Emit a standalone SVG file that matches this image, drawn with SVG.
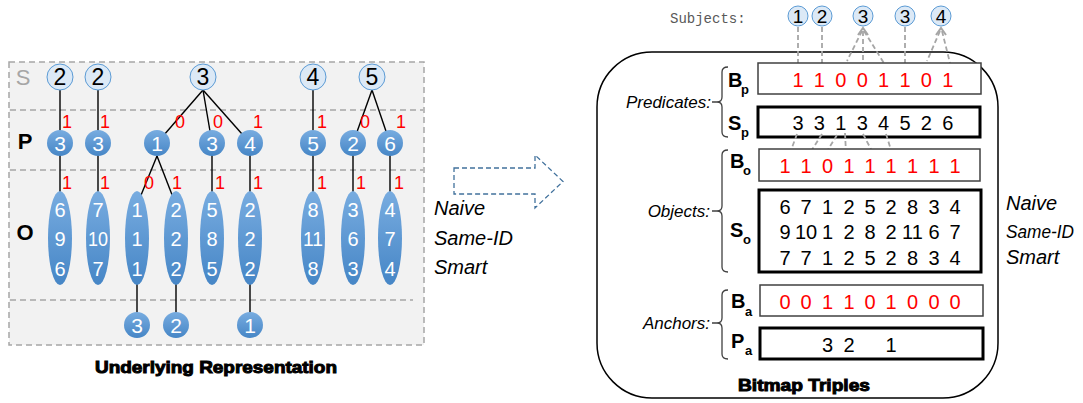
<svg xmlns="http://www.w3.org/2000/svg" width="1083" height="403" viewBox="0 0 1083 403">
<defs>
<linearGradient id="blu" x1="0" y1="0" x2="0" y2="1">
<stop offset="0" stop-color="#78ace0"/>
<stop offset="1" stop-color="#4686c6"/>
</linearGradient>
<style>
.sans{font-family:"Liberation Sans",Arial,sans-serif}
.snode circle{fill:#dce9f6;stroke:#5b9bd5;stroke-width:1}
.snode text{font-family:"Liberation Sans",Arial,sans-serif;font-size:23px;fill:#000;text-anchor:middle}
.bnode circle,.bnode ellipse{fill:url(#blu)}
.bnode text{font-family:"Liberation Sans",Arial,sans-serif;font-size:21px;fill:#fff;text-anchor:middle}
.bnode .o{font-size:20px}
.red{font-family:"Liberation Sans",Arial,sans-serif;font-size:18px;fill:#ff0000;text-anchor:middle}
.edge{stroke:#000;stroke-width:1.4;fill:none}
.dash{stroke:#a6a6a6;stroke-width:1.5;stroke-dasharray:6 4;fill:none}
.gdash{stroke:#a6a6a6;stroke-width:1.8;stroke-dasharray:5 3;fill:none}
.ital{font-family:"Liberation Sans",Arial,sans-serif;font-style:italic;fill:#000}
.thin{fill:#fff;stroke:#404040;stroke-width:1.5}
.thick{fill:#fff;stroke:#000;stroke-width:3}
.rbits{font-family:"Liberation Sans",Arial,sans-serif;font-size:20px;fill:#ff0000;text-anchor:middle}
.kbits{font-family:"Liberation Sans",Arial,sans-serif;font-size:20px;fill:#000;text-anchor:middle}
.lab{font-family:"Liberation Sans",Arial,sans-serif;font-weight:bold;font-size:20px;fill:#000}
.sub{font-family:"Liberation Sans",Arial,sans-serif;font-weight:bold;font-size:13px;fill:#000}
.brace{stroke:#404040;stroke-width:1.3;fill:none}
.title{font-family:"Liberation Sans",Arial,sans-serif;font-weight:bold;font-size:17px;fill:#000;stroke:#000;stroke-width:1;text-anchor:middle}
.subj circle{fill:#dce9f6;stroke:#5b9bd5;stroke-width:1}
.subj text{font-family:"Liberation Sans",Arial,sans-serif;font-size:19px;fill:#000;text-anchor:middle}
</style>
</defs>

<!-- Left panel background -->
<g id="left-panel">
<rect x="9" y="62" width="415" height="283" fill="#f2f2f2" stroke="#a6a6a6" stroke-width="1.5" stroke-dasharray="6 4"/>
<line class="dash" x1="10" y1="110" x2="423" y2="110"/>
<line class="dash" x1="10" y1="170" x2="423" y2="170"/>
<line class="dash" x1="10" y1="300" x2="413" y2="300"/>
<text x="23" y="85" class="sans" font-size="22" fill="#a6a6a6" text-anchor="middle">S</text>
<text x="25" y="149" class="sans" font-size="22" font-weight="bold" fill="#000" text-anchor="middle">P</text>
<text x="25" y="240" class="sans" font-size="22" font-weight="bold" fill="#000" text-anchor="middle">O</text>
</g>

<!-- Connectors -->
<g id="connectors">
<line class="edge" x1="60" y1="90" x2="60" y2="143"/>
<line class="edge" x1="98" y1="90" x2="98" y2="143"/>
<line class="edge" x1="203" y1="90" x2="157" y2="143"/>
<line class="edge" x1="203" y1="90" x2="212" y2="143"/>
<line class="edge" x1="203" y1="90" x2="250" y2="143"/>
<line class="edge" x1="313" y1="90" x2="313" y2="143"/>
<line class="edge" x1="372" y1="90" x2="353" y2="143"/>
<line class="edge" x1="372" y1="90" x2="390" y2="143"/>
<line class="edge" x1="60" y1="150" x2="60" y2="210"/>
<line class="edge" x1="98" y1="150" x2="98" y2="210"/>
<line class="edge" x1="157" y1="156" x2="137" y2="205"/>
<line class="edge" x1="157" y1="156" x2="176" y2="205"/>
<line class="edge" x1="212" y1="150" x2="212" y2="210"/>
<line class="edge" x1="250" y1="150" x2="250" y2="210"/>
<line class="edge" x1="313" y1="150" x2="313" y2="210"/>
<line class="edge" x1="353" y1="150" x2="353" y2="210"/>
<line class="edge" x1="390" y1="150" x2="390" y2="210"/>
<line class="edge" x1="137" y1="270" x2="137" y2="320"/>
<line class="edge" x1="176" y1="270" x2="176" y2="320"/>
<line class="edge" x1="250" y1="270" x2="250" y2="320"/>
<text class="red" x="67" y="128">1</text>
<text class="red" x="105" y="128">1</text>
<text class="red" x="180" y="128">0</text>
<text class="red" x="218" y="128">0</text>
<text class="red" x="258" y="128">1</text>
<text class="red" x="322" y="128">1</text>
<text class="red" x="365" y="128">0</text>
<text class="red" x="401" y="128">1</text>
<text class="red" x="67" y="189">1</text>
<text class="red" x="105" y="189">1</text>
<text class="red" x="149" y="189">0</text>
<text class="red" x="177" y="189">1</text>
<text class="red" x="220" y="189">1</text>
<text class="red" x="258" y="189">1</text>
<text class="red" x="322" y="189">1</text>
<text class="red" x="361" y="189">1</text>
<text class="red" x="399" y="189">1</text>
</g>

<!-- Subject nodes -->
<g id="s-2a" class="snode"><circle cx="60" cy="77" r="13"/><text x="60" y="85">2</text></g>
<g id="s-2b" class="snode"><circle cx="98" cy="77" r="13"/><text x="98" y="85">2</text></g>
<g id="s-3" class="snode"><circle cx="203" cy="77" r="13"/><text x="203" y="85">3</text></g>
<g id="s-4" class="snode"><circle cx="313" cy="77" r="13"/><text x="313" y="85">4</text></g>
<g id="s-5" class="snode"><circle cx="372" cy="77" r="13"/><text x="372" y="85">5</text></g>

<!-- Predicate nodes -->
<g id="p-3a" class="bnode"><circle cx="60" cy="143" r="13"/><text x="60" y="151">3</text></g>
<g id="p-3b" class="bnode"><circle cx="98" cy="143" r="13"/><text x="98" y="151">3</text></g>
<g id="p-1" class="bnode"><circle cx="157" cy="143" r="13"/><text x="157" y="151">1</text></g>
<g id="p-3c" class="bnode"><circle cx="212" cy="143" r="13"/><text x="212" y="151">3</text></g>
<g id="p-4" class="bnode"><circle cx="250" cy="143" r="13"/><text x="250" y="151">4</text></g>
<g id="p-5" class="bnode"><circle cx="313" cy="143" r="13"/><text x="313" y="151">5</text></g>
<g id="p-2" class="bnode"><circle cx="353" cy="143" r="13"/><text x="353" y="151">2</text></g>
<g id="p-6" class="bnode"><circle cx="390" cy="143" r="13"/><text x="390" y="151">6</text></g>

<!-- Object nodes -->
<g id="o-1" class="bnode"><ellipse cx="60" cy="238" rx="12" ry="47"/><text class="o" x="60" y="217">6</text><text class="o" x="60" y="246">9</text><text class="o" x="60" y="276">6</text></g>
<g id="o-2" class="bnode"><ellipse cx="98" cy="238" rx="12" ry="47"/><text class="o" x="98" y="217">7</text><text class="o" x="98" y="246" textLength="20" lengthAdjust="spacingAndGlyphs">10</text><text class="o" x="98" y="276">7</text></g>
<g id="o-3" class="bnode"><ellipse cx="137" cy="238" rx="12" ry="47"/><text class="o" x="137" y="217">1</text><text class="o" x="137" y="246">1</text><text class="o" x="137" y="276">1</text></g>
<g id="o-4" class="bnode"><ellipse cx="176" cy="238" rx="12" ry="47"/><text class="o" x="176" y="217">2</text><text class="o" x="176" y="246">2</text><text class="o" x="176" y="276">2</text></g>
<g id="o-5" class="bnode"><ellipse cx="212" cy="238" rx="12" ry="47"/><text class="o" x="212" y="217">5</text><text class="o" x="212" y="246">8</text><text class="o" x="212" y="276">5</text></g>
<g id="o-6" class="bnode"><ellipse cx="250" cy="238" rx="12" ry="47"/><text class="o" x="250" y="217">2</text><text class="o" x="250" y="246">2</text><text class="o" x="250" y="276">2</text></g>
<g id="o-7" class="bnode"><ellipse cx="313" cy="238" rx="12" ry="47"/><text class="o" x="313" y="217">8</text><text class="o" x="313" y="246" textLength="20" lengthAdjust="spacingAndGlyphs">11</text><text class="o" x="313" y="276">8</text></g>
<g id="o-8" class="bnode"><ellipse cx="353" cy="238" rx="12" ry="47"/><text class="o" x="353" y="217">3</text><text class="o" x="353" y="246">6</text><text class="o" x="353" y="276">3</text></g>
<g id="o-9" class="bnode"><ellipse cx="390" cy="238" rx="12" ry="47"/><text class="o" x="390" y="217">4</text><text class="o" x="390" y="246">7</text><text class="o" x="390" y="276">4</text></g>

<!-- Anchor nodes -->
<g id="a-3" class="bnode"><circle cx="137" cy="325" r="13"/><text x="137" y="333">3</text></g>
<g id="a-2" class="bnode"><circle cx="176" cy="325" r="13"/><text x="176" y="333">2</text></g>
<g id="a-1" class="bnode"><circle cx="250" cy="325" r="13"/><text x="250" y="333">1</text></g>

<text class="title" x="216" y="373" textLength="242" lengthAdjust="spacingAndGlyphs">Underlying Representation</text>

<!-- Middle arrow and labels -->
<g id="arrow">
<path d="M454,168 L535,168 L535,155 L563,181.5 L535,208 L535,194 L454,194 Z" fill="none" stroke="#41719c" stroke-width="1.3" stroke-dasharray="5 3"/>
</g>
<g id="variants-left">
<text class="ital" x="434" y="215" font-size="20">Naive</text>
<text class="ital" x="434" y="245" font-size="20">Same-ID</text>
<text class="ital" x="434" y="274" font-size="20">Smart</text>
</g>

<!-- Right panel -->
<g id="bitmap-panel">
<rect x="597" y="52" width="401" height="346" rx="55" ry="55" fill="none" stroke="#000" stroke-width="1.5"/>
<text class="title" x="804" y="391" textLength="132" lengthAdjust="spacingAndGlyphs">Bitmap Triples</text>
</g>

<g id="subjects">
<text x="670" y="23" font-family="'Liberation Mono','Courier New',monospace" font-size="14" fill="#595959">Subjects:</text>
</g>

<!-- subject-bitmap connectors -->
<g id="bitmap-connectors">
<line class="gdash" x1="798" y1="27" x2="798" y2="66"/>
<line class="gdash" x1="822" y1="27" x2="822" y2="63"/>
<line class="gdash" x1="862" y1="31" x2="847" y2="61"/>
<line class="gdash" x1="863" y1="31" x2="863" y2="63"/>
<line class="gdash" x1="864" y1="31" x2="887" y2="68"/>
<path d="M858,35 L863,28 L868,35" stroke="#a6a6a6" stroke-width="2" fill="none"/>
<line class="gdash" x1="905" y1="27" x2="905" y2="63"/>
<line class="gdash" x1="940" y1="31" x2="927" y2="61"/>
<line class="gdash" x1="942" y1="31" x2="950" y2="63"/>
<path d="M936,35 L941,28 L946,35" stroke="#a6a6a6" stroke-width="2" fill="none"/>
</g>

<g id="subj-1" class="subj"><circle cx="798" cy="16" r="10"/><text x="798" y="23">1</text></g>
<g id="subj-2" class="subj"><circle cx="822" cy="16" r="10"/><text x="822" y="23">2</text></g>
<g id="subj-3a" class="subj"><circle cx="863" cy="16" r="10"/><text x="863" y="23">3</text></g>
<g id="subj-3b" class="subj"><circle cx="905" cy="16" r="10"/><text x="905" y="23">3</text></g>
<g id="subj-4" class="subj"><circle cx="941" cy="16" r="10"/><text x="941" y="23">4</text></g>

<!-- Predicates -->
<g id="bp">
<rect class="thin" x="758" y="63" width="223" height="31"/>
<text class="rbits" x="798 819.4 840.8 862.2 883.6 905 926.4 947.8" y="87">11001101</text>
<text class="lab" x="728" y="87">B</text><text class="sub" x="741" y="94">p</text>
</g>
<g id="sp">
<rect class="thick" x="758" y="107" width="222" height="30"/>
<text class="kbits" x="798 819.4 840.8 862.2 883.6 905 926.4 947.8" y="130">33134526</text>
<text class="lab" x="728" y="130">S</text><text class="sub" x="741" y="137">p</text>
</g>
<g id="sp-bo-connectors">
<line class="gdash" x1="797" y1="134" x2="790" y2="153"/>
<line class="gdash" x1="822" y1="134" x2="810" y2="153"/>
<line class="gdash" x1="837" y1="135" x2="826" y2="153"/>
<line class="gdash" x1="845" y1="133" x2="846" y2="153"/>
<line class="gdash" x1="863" y1="134" x2="873" y2="153"/>
<line class="gdash" x1="886" y1="134" x2="892" y2="153"/>
</g>
<g id="pred-label">
<path class="brace" d="M728,67 Q722,67 722,72 L722,97 Q722,102 717,102 Q722,102 722,107 L722,132 Q722,137 728,137 M712,102 L717,102"/>
<text class="ital" x="711" y="108" font-size="17" text-anchor="end">Predicates:</text>
</g>

<!-- Objects -->
<g id="bo">
<rect class="thin" x="759" y="149" width="221" height="32"/>
<text class="rbits" x="785 806 827.5 849 870 891 912.5 934 955" y="173">110111111</text>
<text class="lab" x="730" y="168">B</text><text class="sub" x="743" y="175">o</text>
</g>
<g id="so">
<rect class="thick" x="759" y="190" width="222" height="82"/>
<text class="kbits" font-size="19" y="214"><tspan x="785">6</tspan><tspan x="806">7</tspan><tspan x="827.5">1</tspan><tspan x="849">2</tspan><tspan x="870">5</tspan><tspan x="891">2</tspan><tspan x="912.5">8</tspan><tspan x="934">3</tspan><tspan x="955">4</tspan></text>
<text class="kbits" font-size="19" y="239"><tspan x="785">9</tspan><tspan x="806">10</tspan><tspan x="827.5">1</tspan><tspan x="849">2</tspan><tspan x="870">8</tspan><tspan x="891">2</tspan><tspan x="912.5">11</tspan><tspan x="934">6</tspan><tspan x="955">7</tspan></text>
<text class="kbits" font-size="19" y="265"><tspan x="785">7</tspan><tspan x="806">7</tspan><tspan x="827.5">1</tspan><tspan x="849">2</tspan><tspan x="870">5</tspan><tspan x="891">2</tspan><tspan x="912.5">8</tspan><tspan x="934">3</tspan><tspan x="955">4</tspan></text>
<text class="lab" x="730" y="237">S</text><text class="sub" x="743" y="244">o</text>
</g>
<g id="obj-label">
<path class="brace" d="M728,150 Q722,150 722,155 L722,206 Q722,211 717,211 Q722,211 722,216 L722,267 Q722,272 728,272 M712,211 L717,211"/>
<text class="ital" x="710" y="217" font-size="17" text-anchor="end">Objects:</text>
</g>

<!-- Anchors -->
<g id="ba">
<rect class="thin" x="760" y="285" width="223" height="31"/>
<text class="rbits" x="785 806 827.5 849 870 891 912.5 934 955" y="309">001101000</text>
<text class="lab" x="731" y="308">B</text><text class="sub" x="745" y="316">a</text>
</g>
<g id="pa">
<rect class="thick" x="760" y="328" width="223" height="31"/>
<text class="kbits" x="827.5 849 891" y="352">321</text>
<text class="lab" x="731" y="348">P</text><text class="sub" x="745" y="355">a</text>
</g>
<g id="anchor-label">
<path class="brace" d="M728,290 Q722,290 722,295 L722,318 Q722,323 717,323 Q722,323 722,328 L722,354 Q722,359 728,359 M712,323 L717,323"/>
<text class="ital" x="710" y="329" font-size="17" text-anchor="end">Anchors:</text>
</g>

<g id="variants-right">
<text class="ital" x="1006" y="210" font-size="20">Naive</text>
<text class="ital" x="1006" y="238" font-size="19" textLength="68" lengthAdjust="spacingAndGlyphs">Same-ID</text>
<text class="ital" x="1006" y="264" font-size="20">Smart</text>
</g>
</svg>
